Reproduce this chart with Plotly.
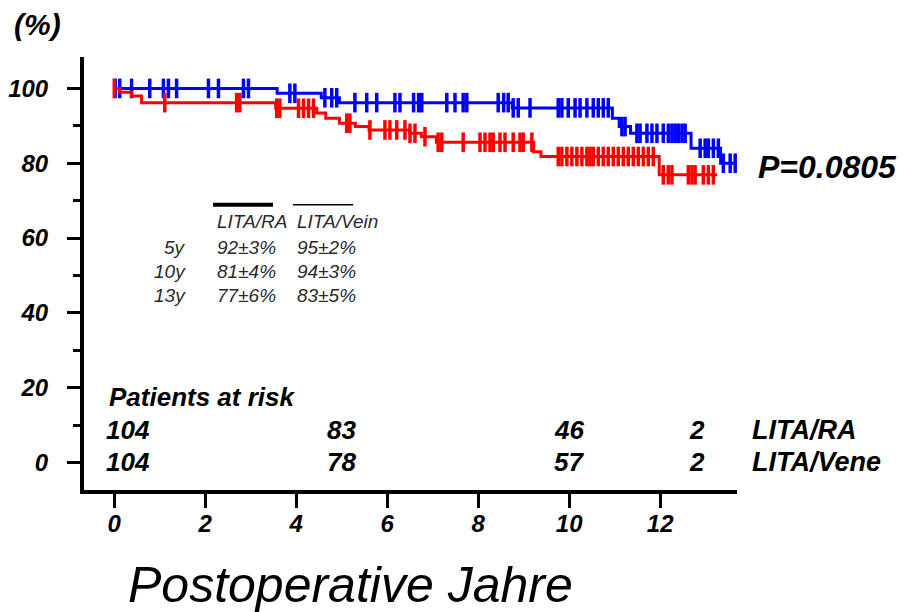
import plotly.graph_objects as go

# ---- data ----
vein_times = [0, 3.58, 4.55, 4.95, 8.75, 10.95, 11.1, 11.35, 12.68, 13.33, 13.65]
vein_surv = [100, 98.7, 97.5, 96.2, 94.8, 92.0, 89.8, 88.0, 84.0, 80.0, 80.0]
vein_censor = [0.02, 0.12, 0.38, 0.78, 1.08, 1.19, 1.37, 2.07, 2.29, 2.84, 2.95, 3.86, 3.97,
               4.63, 4.78, 4.89, 5.29, 5.55, 5.77, 6.17, 6.28, 6.58, 6.69, 6.76, 7.31, 7.49,
               7.67, 7.75, 8.44, 8.56, 8.66, 8.77, 8.88, 9.14, 9.76, 9.84, 9.98, 10.13, 10.24,
               10.39, 10.53, 10.64, 10.75, 10.86, 11.16, 11.23, 11.49, 11.56, 11.71, 11.82,
               11.93, 12.07, 12.18, 12.26, 12.33, 12.40, 12.48, 12.55, 12.88, 12.99, 13.06,
               13.17, 13.28, 13.39, 13.54, 13.65]

ra_times = [0, 0.12, 0.38, 0.6, 3.55, 4.45, 4.65, 4.95, 5.3, 5.6, 6.5, 6.75, 7.08, 9.22,
            9.38, 11.98, 13.25]
ra_surv = [100, 99.0, 98.0, 96.2, 94.7, 93.4, 92.0, 90.7, 89.8, 88.9, 88.0, 87.1, 85.6,
           83.1, 81.8, 76.9, 76.9]
ra_censor = [0.0, 1.11, 2.69, 2.76, 3.57, 3.64, 4.05, 4.16, 4.27, 4.38, 5.11, 5.18, 5.62,
             5.95, 6.06, 6.21, 6.39, 6.50, 6.61, 6.83, 7.12, 7.20, 7.67, 8.04, 8.15, 8.26,
             8.33, 8.48, 8.59, 8.77, 8.92, 8.99, 9.18, 9.76, 9.84, 9.95, 10.06, 10.17, 10.28,
             10.39, 10.46, 10.53, 10.64, 10.75, 10.86, 10.97, 11.08, 11.19, 11.30, 11.41,
             11.52, 11.63, 11.74, 11.85, 12.07, 12.18, 12.26, 12.62, 12.70, 12.77, 12.95,
             13.06, 13.17]

x_ticks = [0, 2, 4, 6, 8, 10, 12]
y_ticks = [0, 20, 40, 60, 80, 100]

table_rows = ["5y", "10y", "13y"]
table_ra = ["92\u00b13%", "81\u00b14%", "77\u00b16%"]
table_vein = ["95\u00b12%", "94\u00b13%", "83\u00b15%"]
table_heads = ["LITA/RA", "LITA/Vein"]

risk_times = [0, 5, 10, 13]
risk_ra = [104, 83, 46, 2]
risk_vein = [104, 78, 57, 2]
risk_groups = ["LITA/RA", "LITA/Vene"]
p_text = "P=0.0805"


def step_at(times, surv, t):
    v = surv[0]
    for ti, si in zip(times, surv):
        if ti <= t:
            v = si
    return v


FONT = "Liberation Sans, Arial, sans-serif"
OFF = 8  # page body margin
W, H = 907 - OFF, 612 - OFF
L, T = 84 - OFF, 57 - OFF
PW, PH = 653, 433
R, B = W - L - PW, H - T - PH


def px(xp):
    return (xp - OFF - L) / PW


def py(yp):
    return (T + PH - (yp - OFF)) / PH


fig = go.Figure()
for times, surv, cens, col in [(vein_times, vein_surv, vein_censor, "#0000FF"),
                               (ra_times, ra_surv, ra_censor, "#FF0000")]:
    fig.add_trace(go.Scatter(x=times, y=surv, mode="lines", line=dict(color=col, width=3, shape="hv"),
                             showlegend=False, hoverinfo="skip"))
    fig.add_trace(go.Scatter(x=cens, y=[step_at(times, surv, t) for t in cens], mode="markers",
                             marker=dict(symbol="line-ns", size=14, line=dict(color=col, width=3.5)),
                             showlegend=False, hoverinfo="skip"))

ann = []
bi = dict(family=FONT, color="black", style="italic", weight="bold")
tf = dict(family=FONT, size=19, color="#2a2a2a", style="italic")

# table inset
ann.append(dict(x=2.22, y=64.3, text=table_heads[0], xanchor="left", yanchor="middle", showarrow=False, font=tf))
ann.append(dict(x=3.97, y=64.3, text=table_heads[1], xanchor="left", yanchor="middle", showarrow=False, font=tf))
row_y = [57.4, 51.0, 44.7]
for lab, a, b, yy in zip(table_rows, table_ra, table_vein, row_y):
    ann.append(dict(x=1.62, y=yy, text=lab, xanchor="right", yanchor="middle", showarrow=False, font=tf))
    ann.append(dict(x=2.22, y=yy, text=a, xanchor="left", yanchor="middle", showarrow=False, font=tf))
    ann.append(dict(x=3.97, y=yy, text=b, xanchor="left", yanchor="middle", showarrow=False, font=tf))

# patients at risk
ann.append(dict(x=-0.16, y=17.5, text="Patients at risk", xanchor="left", yanchor="middle",
                showarrow=False, font=dict(size=26, **bi)))
shifts = [14, 0, 0, -9]
for row, yy in [(risk_ra, 8.7), (risk_vein, 0.13)]:
    for t, n, s in zip(risk_times, row, shifts):
        ann.append(dict(x=t, y=yy, text=str(n), xanchor="center", yanchor="middle", xshift=s,
                        showarrow=False, font=dict(size=26, **bi)))
for g, yy in zip(risk_groups, [8.7, 0.13]):
    ann.append(dict(x=px(750), y=yy, xref="paper", yref="y", text=g, xanchor="left", yanchor="middle",
                    showarrow=False, font=dict(size=27, **bi)))

ann.append(dict(x=px(756), y=79.0, xref="paper", yref="y", text=p_text, xanchor="left", yanchor="middle",
                showarrow=False, font=dict(size=32, **bi)))
ann.append(dict(x=px(12), y=py(25), xref="paper", yref="paper", text="(%)", xanchor="left",
                yanchor="middle", showarrow=False, font=dict(size=30, **bi)))
ann.append(dict(x=px(126), y=py(585), xref="paper", yref="paper", text="Postoperative Jahre",
                xanchor="left", yanchor="middle", showarrow=False,
                font=dict(family=FONT, size=50, color="black", style="italic")))

shapes = [
    dict(type="line", x0=2.17, x1=3.49, y0=68.9, y1=68.9, line=dict(color="black", width=4)),
    dict(type="line", x0=3.93, x1=5.25, y0=68.9, y1=68.9, line=dict(color="black", width=1.5)),
]

fig.update_layout(
    width=W, height=H, margin=dict(l=L, r=R, t=T, b=B),
    plot_bgcolor="white", paper_bgcolor="white",
    annotations=ann, shapes=shapes, showlegend=False,
    xaxis=dict(range=[-0.666, 13.69], tickvals=x_ticks, ticktext=[str(v) for v in x_ticks],
               showline=True, linecolor="black", linewidth=4, ticks="outside", ticklen=14,
               tickwidth=3, tickcolor="black", showgrid=False, zeroline=False, automargin=False,
               tickfont=dict(size=24, **bi), ticklabelstandoff=-5),
    yaxis=dict(range=[-7.35, 108.4], tickvals=y_ticks, ticktext=[str(v) for v in y_ticks],
               showline=True, linecolor="black", linewidth=4, ticks="outside", ticklen=13,
               tickwidth=3, tickcolor="black", showgrid=False, zeroline=False, automargin=False,
               tickfont=dict(size=24, **bi), ticklabelstandoff=14,
               minor=dict(tickvals=[10, 30, 50, 70, 90], ticks="outside", ticklen=7, tickwidth=3,
                          tickcolor="black", showgrid=False)),
)

fig.write_html("out.html")
